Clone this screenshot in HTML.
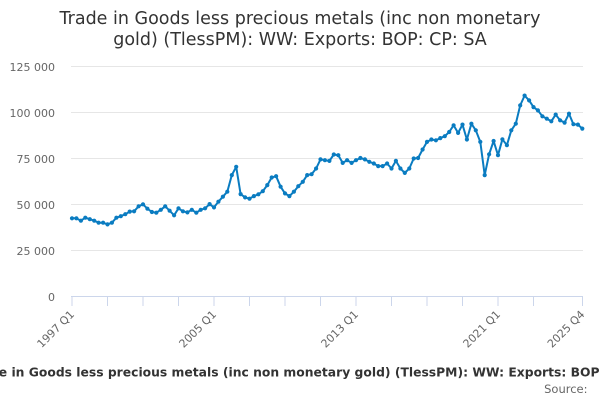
<!DOCTYPE html>
<html>
<head>
<meta charset="utf-8">
<style>
  html, body { margin: 0; padding: 0; background: #ffffff; }
  body { width: 600px; height: 400px; overflow: hidden; }
  svg { display: block; font-family: "DejaVu Sans", "Liberation Sans", sans-serif; }
</style>
</head>
<body>
<svg width="600" height="400" viewBox="0 0 600 400" xmlns="http://www.w3.org/2000/svg">
  <defs>
    <marker id="dot" markerUnits="userSpaceOnUse" markerWidth="6" markerHeight="6" refX="3" refY="3" viewBox="0 0 6 6">
      <circle cx="3" cy="3" r="2.1" fill="#0a7cc1"/>
    </marker>
  </defs>
  <rect x="0" y="0" width="600" height="400" fill="#ffffff"/>

  <!-- Title -->
  <text x="300" y="24" text-anchor="middle" font-size="17.5" fill="#333333">Trade in Goods less precious metals (inc non monetary</text>
  <text x="300" y="45" text-anchor="middle" font-size="17.5" fill="#333333">gold) (TlessPM): WW: Exports: BOP: CP: SA</text>

  <!-- Grid lines -->
  <g stroke="#e6e6e6" stroke-width="1" shape-rendering="crispEdges">
    <line x1="71" y1="66.5" x2="583" y2="66.5"/>
    <line x1="71" y1="112.5" x2="583" y2="112.5"/>
    <line x1="71" y1="158.5" x2="583" y2="158.5"/>
    <line x1="71" y1="204.5" x2="583" y2="204.5"/>
    <line x1="71" y1="250.5" x2="583" y2="250.5"/>
  </g>

  <!-- Y labels -->
  <g font-size="11" fill="#666666" text-anchor="end">
    <text x="55" y="71">125 000</text>
    <text x="55" y="117">100 000</text>
    <text x="55" y="163">75 000</text>
    <text x="55" y="209">50 000</text>
    <text x="55" y="255">25 000</text>
    <text x="55" y="301">0</text>
  </g>

  <!-- X axis -->
  <g stroke="#ccd6eb" stroke-width="1" shape-rendering="crispEdges">
    <line x1="71" y1="296.5" x2="583" y2="296.5"/>
    <line x1="72" y1="297" x2="72" y2="306"/>
    <line x1="107.5" y1="297" x2="107.5" y2="306"/>
    <line x1="143" y1="297" x2="143" y2="306"/>
    <line x1="178.5" y1="297" x2="178.5" y2="306"/>
    <line x1="214" y1="297" x2="214" y2="306"/>
    <line x1="249.5" y1="297" x2="249.5" y2="306"/>
    <line x1="285" y1="297" x2="285" y2="306"/>
    <line x1="320.5" y1="297" x2="320.5" y2="306"/>
    <line x1="356" y1="297" x2="356" y2="306"/>
    <line x1="391.5" y1="297" x2="391.5" y2="306"/>
    <line x1="427" y1="297" x2="427" y2="306"/>
    <line x1="462.5" y1="297" x2="462.5" y2="306"/>
    <line x1="498" y1="297" x2="498" y2="306"/>
    <line x1="533.5" y1="297" x2="533.5" y2="306"/>
    <line x1="582.3" y1="297" x2="582.3" y2="306"/>
  </g>

  <!-- X labels -->
  <g font-size="11" fill="#666666" text-anchor="end">
    <text x="75" y="315" transform="rotate(-45 75 315)">1997 Q1</text>
    <text x="217" y="315" transform="rotate(-45 217 315)">2005 Q1</text>
    <text x="359" y="315" transform="rotate(-45 359 315)">2013 Q1</text>
    <text x="501" y="315" transform="rotate(-45 501 315)">2021 Q1</text>
    <text x="585.3" y="315" transform="rotate(-45 585.3 315)">2025 Q4</text>
  </g>

  <!-- Series -->
  <polyline fill="none" stroke="#0a7cc1" stroke-width="2" stroke-linejoin="round" stroke-linecap="round"
    marker-start="url(#dot)" marker-mid="url(#dot)" marker-end="url(#dot)"
    points="72,218.3 76.4,218.3 80.9,220.7 85.3,217.7 89.8,219.2 94.2,220.7 98.6,222.7 103.1,222.7 107.5,224.4 111.9,222.7 116.4,217.7 120.8,216.2 125.3,214.2 129.7,211.6 134.1,211.3 138.6,206.3 143,204.3 147.4,208.7 151.9,212 156.3,212.7 160.8,209.8 165.2,206.3 169.6,210.7 174.1,215.3 178.5,208.3 182.9,211.3 187.4,212.4 191.8,209.8 196.3,212.7 200.7,209.8 205.1,208.3 209.6,204.1 214,207.4 218.4,201.7 222.9,196.7 227.3,191.7 231.8,175.1 236.2,166.8 240.6,194.1 245.1,197.4 249.5,198.7 253.9,196.1 258.4,194.3 262.8,191.2 267.3,185.1 271.7,177.5 276.1,176.2 280.6,186.7 285,193.4 289.4,196.1 293.9,191.7 298.3,186.2 302.8,181.8 307.2,175.1 311.6,174.2 316.1,168.5 320.5,159.4 324.9,160.2 329.4,160.9 333.8,154.5 338.3,155.2 342.7,162.9 347.1,160.2 351.6,162.9 356,160.2 360.4,158 364.9,159.4 369.3,161.8 373.8,163.5 378.2,166.1 382.6,166.1 387.1,163.5 391.5,168.5 395.9,160.9 400.4,168.5 404.8,172.9 409.3,168.5 413.7,158.5 418.1,158 422.6,149.5 427,141.9 431.4,139.5 435.9,140.3 440.3,138.1 444.8,136.2 449.2,132 453.6,125.3 458.1,132.9 462.5,124.6 466.9,139.5 471.4,123.7 475.8,130.3 480.3,141.9 484.7,175.1 489.1,154.3 493.6,141 498,155.2 502.4,139.3 506.9,145.2 511.3,130.3 515.8,123.7 520.2,105.4 524.6,95.6 529.1,100.4 533.5,107.1 537.9,110.4 542.4,116.3 546.8,118.7 551.3,121.3 555.7,114.6 560.1,120.3 564.6,122.6 569,113.7 573.4,124.2 577.9,124.6 582.3,128.6"/>

  <!-- Caption -->
  <text x="-31.5" y="376.5" font-size="12.25" font-weight="bold" fill="#333333" textLength="686" lengthAdjust="spacingAndGlyphs">Trade in Goods less precious metals (inc non monetary gold) (TlessPM): WW: Exports: BOP: CP: SA</text>
  <text x="587.5" y="393" font-size="11.5" fill="#666666" text-anchor="end">Source:</text>
</svg>
</body>
</html>
